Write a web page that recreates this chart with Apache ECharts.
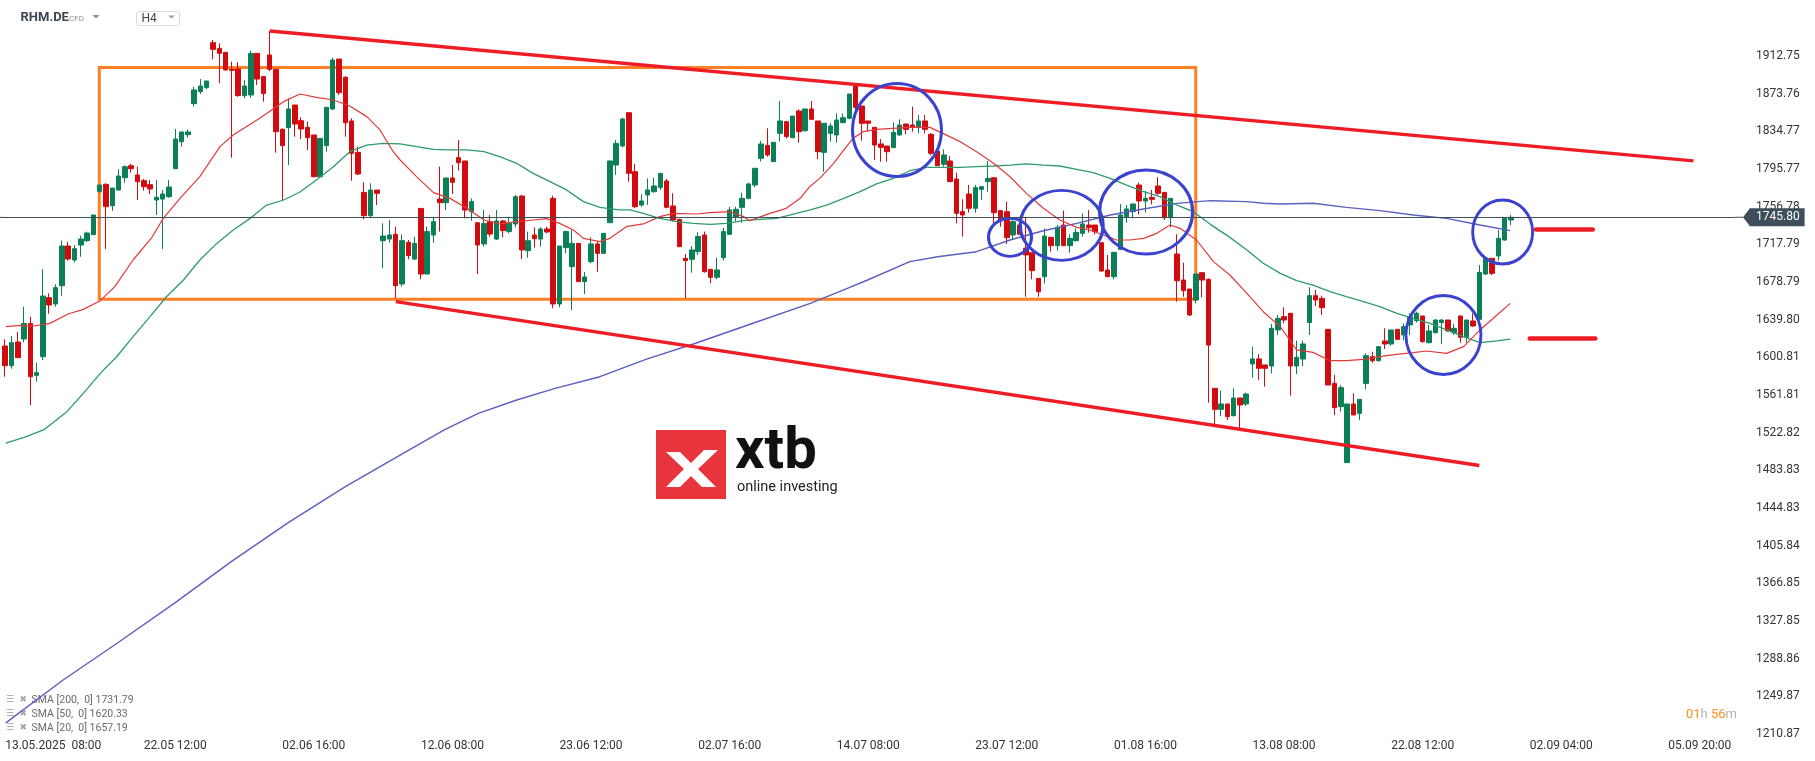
<!DOCTYPE html>
<html><head><meta charset="utf-8">
<script src="https://cdn.jsdelivr.net/npm/echarts@6/dist/echarts.min.js"></script>
<style>html,body{margin:0;padding:0;background:#fff}#c{width:1815px;height:761px}</style>
</head><body><div id="c"></div><script>
// ---- data ----
const xTickLabels = ['13.05.2025  08:00','22.05 12:00','02.06 16:00','12.06 08:00','23.06 12:00','02.07 16:00','14.07 08:00','23.07 12:00','01.08 16:00','13.08 08:00','22.08 12:00','02.09 04:00','05.09 20:00'];
const yTickValues = [1210.87,1249.87,1288.86,1327.85,1366.85,1405.84,1444.83,1483.83,1522.82,1561.81,1600.81,1639.80,1678.79,1717.79,1756.78,1795.77,1834.77,1873.76,1912.75];
const slotCount = 275;
const open = [1612.6,1592.2,1616.7,1619.8,1636.0,1582.2,1601.5,1662.6,1656.1,1675.0,1716.1,1701.6,1717.1,1721.6,1727.8,1772.3,1779.9,1757.8,1774.0,1786.8,1799.2,1789.6,1783.7,1779.6,1763.7,1764.7,1767.1,1796.1,1824.0,1831.3,1863.4,1875.8,1880.0,1926.5,1920.7,1916.5,1898.9,1899.3,1871.7,1872.4,1915.5,1891.4,1913.8,1898.9,1836.8,1838.6,1862.0,1845.8,1838.9,1831.0,1787.8,1820.0,1857.9,1909.6,1890.7,1845.5,1813.0,1771.6,1747.5,1774.0,1721.6,1723.3,1728.2,1676.8,1719.9,1702.6,1755.0,1687.1,1727.5,1764.7,1760.9,1786.5,1807.5,1804.1,1751.6,1740.2,1718.2,1741.3,1723.3,1742.0,1731.0,1738.9,1767.8,1711.3,1727.5,1723.3,1733.7,1765.4,1656.1,1714.4,1694.7,1718.8,1679.2,1699.9,1718.2,1708.5,1740.2,1799.9,1819.6,1854.1,1793.0,1758.5,1768.9,1772.3,1776.8,1783.4,1757.5,1743.7,1703.3,1702.3,1710.3,1727.5,1692.0,1683.7,1704.0,1728.2,1746.4,1756.1,1765.4,1779.2,1806.8,1820.3,1803.4,1832.7,1844.8,1828.2,1855.8,1835.4,1857.9,1845.5,1813.0,1832.7,1831.0,1843.8,1848.2,1882.7,1861.0,1845.5,1838.9,1821.7,1819.6,1817.9,1831.0,1842.4,1841.3,1839.6,1845.5,1831.7,1814.4,1800.6,1804.1,1785.4,1751.6,1769.9,1755.1,1774.7,1782.7,1786.8,1752.7,1751.6,1727.5,1737.8,1713.7,1709.2,1682.6,1684.3,1725.1,1716.4,1737.8,1716.4,1721.6,1729.2,1737.8,1737.8,1719.5,1691.2,1684.3,1712.6,1746.4,1751.6,1779.2,1762.7,1766.5,1778.2,1771.6,1745.4,1707.8,1680.9,1671.6,1660.2,1688.5,1681.6,1568.8,1547.0,1552.6,1540.5,1558.8,1552.6,1594.0,1599.2,1593.0,1591.9,1629.2,1643.0,1646.4,1591.9,1599.1,1636.8,1664.7,1661.9,1629.8,1573.9,1549.8,1491.9,1552.6,1542.9,1573.9,1601.6,1597.4,1617.8,1614.7,1629.8,1624.0,1634.4,1638.8,1643.7,1616.0,1626.4,1636.8,1639.5,1626.4,1643.7,1621.6,1638.5,1640.2,1687.1,1703.3,1705.8,1722.3,1743.0];
const high = [1619.5,1622.9,1627.1,1653.3,1642.9,1595.3,1692.3,1667.1,1676.4,1721.6,1720.2,1717.1,1726.8,1731.0,1748.2,1779.2,1781.0,1776.1,1795.4,1799.6,1801.3,1798.2,1785.4,1784.4,1784.4,1774.0,1784.4,1837.2,1834.1,1836.8,1881.0,1888.9,1886.9,1929.3,1925.9,1916.5,1906.9,1906.2,1887.9,1918.3,1915.5,1891.4,1938.6,1898.9,1837.9,1868.9,1862.0,1849.3,1844.8,1831.0,1827.5,1859.6,1911.0,1909.6,1892.0,1848.2,1818.9,1782.0,1781.0,1774.0,1739.5,1743.0,1736.1,1728.2,1722.3,1725.7,1755.0,1736.1,1746.4,1798.2,1786.5,1799.9,1825.8,1804.1,1765.4,1740.2,1753.3,1748.2,1753.3,1743.0,1746.4,1768.9,1768.9,1731.0,1735.4,1735.4,1736.1,1768.2,1716.1,1732.0,1732.6,1718.8,1689.2,1725.1,1720.6,1729.2,1804.1,1825.8,1848.9,1854.1,1801.0,1769.6,1786.1,1786.8,1791.3,1785.4,1770.6,1743.7,1707.8,1716.1,1730.3,1731.0,1692.0,1704.0,1735.1,1756.8,1756.8,1771.3,1781.6,1796.5,1825.1,1837.9,1823.4,1866.2,1844.8,1850.6,1857.5,1857.9,1866.2,1845.5,1843.1,1843.1,1853.4,1853.4,1873.4,1882.7,1861.0,1845.5,1838.9,1826.8,1819.6,1844.1,1847.2,1842.4,1860.3,1851.7,1851.7,1833.0,1814.4,1816.1,1809.2,1792.0,1764.4,1779.2,1779.2,1777.5,1804.1,1786.8,1753.3,1762.0,1743.0,1746.4,1746.4,1709.2,1682.6,1734.4,1725.1,1737.8,1752.7,1728.2,1734.4,1749.9,1753.3,1737.8,1719.5,1706.8,1709.5,1759.6,1758.5,1759.6,1781.6,1773.0,1774.0,1787.2,1771.6,1765.4,1728.2,1698.8,1671.6,1687.1,1688.5,1682.6,1568.8,1566.4,1552.6,1568.8,1558.8,1564.3,1611.9,1604.3,1593.0,1635.4,1644.7,1652.6,1646.4,1618.1,1618.1,1673.3,1670.6,1664.7,1629.8,1582.6,1572.2,1552.6,1563.6,1557.4,1605.0,1606.7,1611.9,1630.9,1629.2,1629.8,1636.1,1646.4,1648.1,1643.7,1634.4,1640.2,1640.2,1639.5,1635.4,1643.7,1639.5,1646.4,1696.4,1703.3,1703.3,1732.6,1744.7,1748.2];
const low = [1580.8,1589.1,1600.5,1616.4,1551.5,1575.7,1598.1,1646.0,1653.3,1664.7,1700.9,1699.2,1705.0,1720.2,1727.8,1772.3,1713.0,1752.6,1774.0,1781.6,1792.0,1763.7,1773.4,1769.9,1748.2,1713.0,1766.1,1796.1,1818.9,1828.5,1860.3,1873.4,1878.2,1909.3,1884.5,1897.6,1807.5,1870.6,1868.9,1869.6,1882.7,1865.5,1897.0,1812.7,1763.7,1799.9,1829.2,1826.8,1815.4,1787.2,1787.8,1813.7,1856.8,1872.4,1829.2,1783.7,1789.6,1743.7,1744.7,1758.5,1693.0,1719.5,1662.0,1674.0,1702.3,1701.6,1681.6,1687.1,1719.5,1731.0,1753.3,1769.9,1794.1,1744.7,1742.3,1687.1,1715.4,1725.7,1722.3,1725.0,1729.2,1735.4,1702.6,1704.0,1714.4,1715.4,1729.2,1651.6,1652.6,1708.5,1649.8,1679.2,1666.4,1698.1,1689.5,1707.8,1740.2,1789.6,1818.2,1782.7,1755.1,1756.8,1758.5,1771.3,1774.1,1755.1,1741.3,1715.4,1662.0,1688.5,1706.8,1688.5,1677.5,1681.9,1701.0,1727.5,1741.3,1740.3,1764.4,1776.8,1803.4,1808.6,1803.4,1824.1,1827.5,1827.5,1823.0,1834.4,1846.5,1805.8,1793.0,1824.1,1823.0,1843.1,1847.2,1855.0,1825.1,1834.4,1805.1,1803.4,1803.4,1817.9,1830.3,1831.7,1834.4,1832.7,1832.7,1810.0,1799.2,1798.2,1782.7,1739.5,1725.8,1750.6,1750.6,1763.7,1772.3,1739.5,1736.1,1718.2,1722.3,1728.2,1663.6,1681.6,1663.6,1677.4,1710.2,1711.3,1716.4,1709.2,1720.6,1725.8,1729.9,1728.2,1689.5,1684.3,1681.6,1711.9,1740.2,1744.7,1748.9,1750.6,1759.2,1768.9,1743.0,1735.4,1658.5,1663.6,1643.6,1656.8,1663.0,1553.9,1528.4,1540.1,1536.0,1539.5,1527.4,1550.5,1579.9,1577.5,1570.5,1584.3,1624.0,1636.1,1561.2,1583.6,1591.9,1624.0,1654.0,1644.7,1572.2,1541.2,1544.6,1491.9,1541.2,1536.0,1567.8,1595.3,1596.4,1609.5,1612.9,1618.8,1618.8,1624.0,1636.8,1616.0,1615.3,1625.7,1614.4,1627.4,1624.0,1616.0,1616.0,1632.6,1640.2,1686.0,1686.0,1700.9,1721.6,1737.8];
const close = [1592.2,1616.0,1600.5,1636.0,1580.8,1585.0,1664.3,1655.0,1673.0,1716.1,1702.6,1713.3,1723.3,1729.5,1748.2,1779.2,1756.8,1776.1,1788.5,1798.2,1796.1,1782.7,1777.5,1775.1,1766.5,1769.9,1777.1,1826.8,1834.1,1834.1,1877.6,1881.7,1886.9,1919.6,1915.5,1898.3,1897.9,1871.7,1881.7,1915.5,1888.9,1873.8,1898.9,1834.4,1820.0,1857.9,1842.3,1837.2,1828.2,1787.8,1827.5,1859.6,1908.6,1874.8,1843.7,1812.0,1790.6,1747.5,1774.0,1770.6,1726.4,1727.5,1675.0,1721.6,1706.1,1718.8,1687.1,1731.0,1741.3,1760.9,1786.5,1782.0,1802.3,1753.3,1762.0,1717.1,1739.5,1728.5,1742.0,1732.0,1739.5,1767.1,1712.0,1721.6,1723.7,1733.7,1730.6,1656.1,1716.1,1731.0,1718.8,1679.2,1684.0,1718.2,1708.5,1729.2,1804.1,1822.3,1847.5,1791.3,1756.8,1762.7,1774.1,1778.2,1791.3,1756.1,1743.0,1715.4,1701.0,1712.0,1725.8,1689.5,1683.7,1691.3,1731.0,1753.4,1754.1,1765.4,1780.3,1796.5,1821.7,1810.3,1823.4,1845.5,1829.3,1850.6,1834.4,1857.9,1847.2,1813.7,1843.1,1840.3,1846.5,1848.9,1873.4,1859.6,1843.1,1843.1,1820.6,1818.2,1813.7,1833.7,1841.3,1836.8,1838.9,1845.5,1836.8,1812.0,1799.2,1810.3,1782.7,1749.9,1748.2,1755.1,1776.5,1777.5,1786.1,1750.6,1742.0,1724.7,1741.3,1728.2,1706.8,1690.6,1668.8,1726.4,1716.4,1735.4,1716.4,1724.0,1730.2,1738.9,1735.1,1730.9,1690.2,1684.3,1709.5,1748.2,1754.4,1759.6,1762.7,1765.4,1764.4,1770.6,1745.4,1765.4,1680.2,1669.9,1644.7,1687.1,1680.9,1613.6,1547.0,1552.6,1539.4,1558.8,1551.5,1562.9,1599.2,1589.5,1589.5,1630.9,1641.2,1639.5,1591.9,1600.9,1614.7,1664.7,1660.2,1652.3,1572.2,1548.8,1569.5,1552.6,1541.2,1557.4,1602.6,1597.4,1611.9,1614.7,1629.2,1619.5,1632.6,1643.0,1646.4,1617.1,1628.2,1639.5,1639.5,1628.2,1630.9,1621.6,1639.5,1633.3,1688.8,1703.3,1687.8,1724.0,1744.7,1745.8];
const sma20 = [[0.1,1632.6],[2.4,1634.0],[4.5,1633.3],[7.1,1636.0],[10.0,1645.7],[12.4,1650.5],[15.1,1659.5],[17.4,1674.0],[20.3,1701.6],[23.3,1725.1],[25.1,1744.7],[28.0,1767.2],[30.9,1787.9],[34.1,1818.9],[36.2,1831.0],[40.4,1848.2],[44.2,1865.5],[46.8,1873.4],[49.4,1870.0],[52.1,1867.2],[54.7,1861.0],[57.4,1850.0],[59.5,1836.2],[61.6,1813.7],[62.7,1805.1],[65.3,1787.9],[68.0,1771.3],[70.6,1765.4],[73.3,1755.1],[76.0,1743.0],[78.5,1738.9],[81.2,1741.3],[83.8,1743.0],[85.9,1744.4],[88.0,1739.5],[90.2,1732.7],[91.8,1724.0],[94.4,1720.6],[96.0,1724.0],[98.6,1736.1],[101.3,1738.9],[103.9,1746.5],[106.1,1749.9],[109.8,1749.2],[111.9,1750.6],[115.1,1751.6],[117.2,1746.5],[118.2,1742.3],[121.4,1749.9],[124.0,1755.1],[126.2,1765.4],[127.7,1777.5],[129.3,1786.1],[131.5,1801.7],[133.1,1815.4],[134.6,1827.5],[136.2,1834.4],[138.3,1836.8],[140.9,1837.9],[143.6,1838.9],[146.8,1838.9],[151.6,1824.1],[154.2,1813.7],[156.9,1801.7],[159.5,1787.8],[162.1,1770.6],[164.8,1755.1],[167.4,1743.0],[170.1,1735.4],[172.2,1732.7],[174.3,1727.5],[176.4,1722.3],[178.5,1722.3],[180.7,1724.0],[182.8,1729.2],[184.9,1737.8],[186.5,1734.4],[189.1,1722.3],[191.8,1699.9],[194.4,1686.1],[197.1,1667.1],[199.7,1648.1],[202.4,1632.6],[203.9,1618.8],[205.0,1608.5],[207.6,1606.0],[210.3,1597.4],[212.9,1597.4],[215.6,1598.8],[218.2,1601.5],[220.9,1604.0],[223.5,1605.7],[225.6,1607.4],[228.8,1605.0],[231.5,1611.9],[234.1,1629.2],[236.8,1644.7],[238.9,1656.7]];
const sma50 = [[0.1,1512.0],[3.0,1518.0],[6.1,1525.7],[9.8,1544.6],[12.4,1563.6],[15.1,1584.3],[17.7,1601.5],[20.3,1622.3],[23.0,1643.0],[25.6,1663.6],[28.3,1680.9],[30.9,1701.6],[33.6,1718.8],[36.2,1732.7],[38.9,1744.7],[41.5,1758.5],[44.2,1763.7],[46.8,1772.0],[49.4,1784.4],[52.1,1798.2],[54.7,1813.7],[57.4,1820.6],[60.0,1822.4],[62.7,1821.7],[65.3,1818.9],[68.0,1816.1],[70.6,1815.5],[73.3,1815.5],[76.0,1813.7],[78.5,1808.6],[81.2,1801.7],[83.8,1791.3],[86.5,1782.7],[89.1,1774.1],[91.8,1762.0],[94.4,1756.1],[97.5,1753.4],[99.2,1753.4],[101.3,1749.9],[103.9,1744.7],[106.6,1741.3],[109.2,1739.5],[111.9,1738.5],[114.5,1739.5],[117.2,1742.3],[119.8,1743.7],[122.5,1744.7],[125.1,1749.2],[127.8,1753.4],[130.4,1758.5],[133.1,1765.4],[135.7,1772.3],[138.3,1780.3],[141.0,1786.1],[143.6,1794.0],[146.3,1797.5],[148.9,1797.5],[151.6,1797.5],[154.2,1798.2],[156.9,1798.9],[159.5,1799.9],[162.1,1801.0],[164.8,1799.9],[167.4,1798.9],[170.1,1795.4],[172.7,1792.0],[175.4,1786.1],[178.0,1779.2],[180.7,1772.3],[183.3,1767.2],[186.0,1758.5],[188.6,1751.6],[191.3,1738.5],[194.4,1725.0],[197.1,1712.0],[199.7,1698.2],[202.4,1687.8],[205.0,1680.2],[207.6,1675.7],[210.3,1668.8],[212.9,1663.6],[215.6,1658.5],[218.2,1653.3],[220.9,1646.4],[223.5,1641.2],[226.2,1636.1],[228.8,1629.2],[231.5,1622.3],[234.1,1616.0],[236.8,1617.8],[238.9,1619.8]];
const sma200 = [[0.1,1222.5],[9.2,1266.9],[18.0,1306.0],[27.0,1347.0],[36.0,1390.0],[45.0,1430.0],[54.0,1467.0],[62.0,1497.0],[69.7,1525.7],[75.1,1542.9],[81.2,1556.7],[87.3,1568.8],[94.4,1580.8],[101.7,1598.8],[109.6,1615.4],[118.7,1636.1],[127.8,1656.7],[133.1,1670.6],[136.9,1680.9],[143.6,1699.9],[148.0,1705.0],[154.2,1710.2],[159.5,1722.3],[164.8,1731.9],[170.1,1739.5],[175.4,1748.2],[180.7,1754.4],[186.0,1760.2],[191.3,1763.0],[197.1,1762.0],[199.7,1760.3],[202.4,1759.6],[207.6,1760.3],[212.9,1756.1],[218.2,1752.7],[223.5,1748.2],[228.8,1744.7],[234.1,1737.8],[238.9,1732.0]];
const lastPrice = 1745.80;
const legendRows = [['SMA [200,  0]','1731.79'],['SMA [50,  0]','1620.33'],['SMA [20,  0]','1657.19']];
// ---- annotations (drawn in data coordinates) ----
const rangeBox = [[14.94,1900.8],[188.98,1660.9]];
const trendLines = [[[42,1938.6],[268,1804.2]],[[62,1658.5],[234,1488.8]]];
const levelLines = [[[243,1733.4],[252,1733.4]],[[242,1620.6],[252.4,1620.6]]];
const ellipses = [[141.56,1836.2,89,93],[159.5,1725.1,43,38],[167.7,1737.5,83,70],[181.1,1751.3,93,84],[228.3,1624.0,75,79],[237.7,1730.6,60,64]];

// ---- layout ----
const W = 1815, H = 761;
const gridLeft = 2, gridRight = 80.5, gridTop = 0, gridBottom = 22;
const yMax = 1970.7;
const yMin = yMax - (H - gridTop - gridBottom) * 1.035;
const GREEN = '#0a7f58', RED = '#d20b10', TAG = '#3e4e5b';
const font = 'Roboto, "Noto Sans", sans-serif';
const tagTip = 1743, tagBox = 1749.5;

const chart = echarts.init(document.getElementById('c'), null, {renderer: 'canvas'});
const cats = Array.from({length: slotCount}, (_, i) => String(i));
const candle = open.map((o, i) => [o, close[i], low[i], high[i]]);

const option = {
  animation: false,
  backgroundColor: '#ffffff',
  grid: {left: gridLeft, right: gridRight, top: gridTop, bottom: gridBottom, containLabel: false},
  xAxis: [
    {type: 'category', data: cats, boundaryGap: true,
     axisLine: {show: false}, axisTick: {show: false}, splitLine: {show: false},
     axisLabel: {interval: 21, align: 'left', margin: 1, fontSize: 12, fontFamily: font, color: '#333',
       formatter: (v, idx) => (idx % 22 === 0 ? (xTickLabels[idx / 22] || '') : '')}},
    {type: 'value', min: -0.5, max: slotCount - 0.5, show: false}
  ],
  yAxis: {type: 'value', position: 'right', min: yMin, max: yMax, scale: true,
    axisLine: {show: false}, axisTick: {show: false}, splitLine: {show: false},
    axisLabel: {customValues: yTickValues, align: 'left', margin: 21.5, fontSize: 12, fontFamily: font, color: '#333',
      formatter: v => v.toFixed(2)}},
  series: [
    {type: 'candlestick', xAxisIndex: 0, data: candle, barWidth: 5, z: 2, silent: true,
     itemStyle: {color: GREEN, color0: RED, borderColor: GREEN, borderColor0: RED, borderWidth: 1}},
    {type: 'line', xAxisIndex: 1, data: sma200, showSymbol: false, z: 3, silent: true, clip: false,
     lineStyle: {color: '#5a5fc0', width: 1.4},
     markLine: {silent: true, symbol: ['none', 'none'], z: 8,
       data: [{yAxis: lastPrice, lineStyle: {color: TAG, width: 1, type: 'solid'},
               label: {show: true, position: 'end', distance: tagBox - (W - gridRight), formatter: lastPrice.toFixed(2),
                       backgroundColor: TAG, color: '#fff', fontSize: 12, fontFamily: font,
                       padding: [3, 5, 3, 6.5], borderRadius: 0}}]}},
    {type: 'line', xAxisIndex: 1, data: sma50, showSymbol: false, z: 3, silent: true, clip: false,
     lineStyle: {color: '#2f9a6c', width: 1.3}},
    {type: 'line', xAxisIndex: 1, data: sma20, showSymbol: false, z: 3, silent: true, clip: false,
     lineStyle: {color: '#e23a3a', width: 1.2},
     markArea: {silent: true, itemStyle: {color: 'rgba(0,0,0,0)', borderColor: '#ff7f24', borderWidth: 3, opacity: 1},
       data: [[{coord: rangeBox[0]}, {coord: rangeBox[1]}]]},
     markLine: {silent: true, symbol: ['none', 'none'], label: {show: false},
       data: trendLines.map(l => [{coord: l[0], lineStyle: {color: '#ee1c25', width: 3.5, type: 'solid', opacity: 1}}, {coord: l[1]}])
         .concat(levelLines.map(l => [{coord: l[0], lineStyle: {color: '#ee1c25', width: 4.5, type: 'solid', cap: 'round', opacity: 1}}, {coord: l[1]}]))}},
    {type: 'scatter', xAxisIndex: 1, z: 6, silent: true, clip: false,
     data: ellipses.map(e => ({value: [e[0], e[1]], symbolSize: [e[2], e[3]]})),
     symbol: 'circle',
     itemStyle: {color: 'rgba(0,0,0,0)', borderColor: '#3a43cf', borderWidth: 3, opacity: 1}}
  ]
};
chart.setOption(option);

// decorations: header, legend, logo, timer, price-tag arrow
const py = chart.convertToPixel({yAxisIndex: 0}, lastPrice);
const gx = W - gridRight;
const graphics = [
  {type: 'text', left: 20.5, top: 11, style: {text: 'RHM.DE', font: 'bold 13px ' + font, fill: '#3b4650'}},
  {type: 'text', left: 69, top: 15, style: {text: 'CFD', font: '8px ' + font, fill: '#8b949b'}},
  {type: 'polygon', shape: {points: [[92.5, 15], [99.5, 15], [96, 18.5]]}, style: {fill: '#8b949b'}},
  {type: 'rect', shape: {x: 136.5, y: 11.5, width: 43, height: 14, r: 2}, style: {fill: '#fff', stroke: '#d9dde1', lineWidth: 1}},
  {type: 'text', left: 141.5, top: 12.5, style: {text: 'H4', font: '12px ' + font, fill: '#3b4650'}},
  {type: 'polygon', shape: {points: [[168, 15.5], [175, 15.5], [171.5, 18.5]]}, style: {fill: '#9aa1a7'}},
  // logo
  {type: 'rect', shape: {x: 656, y: 430, width: 70, height: 69}, style: {fill: '#e8343c'}},
  {type: 'polygon', shape: {points: [[666, 452], [680, 452], [691, 463], [704, 450], [718, 450], [698, 469], [716, 487], [702, 487], [691, 476], [680, 487], [666, 487], [684, 469]]}, style: {fill: '#fff'}},
  {type: 'text', left: 735, top: 424, style: {text: 'xtb', font: 'bold 58px ' + font, fill: '#111'}},
  {type: 'text', left: 737, top: 480, style: {text: 'online investing', font: '14.5px ' + font, fill: '#222'}},
  // timer
  {type: 'text', left: 1686, top: 708, style: {text: '{o|01}{g|h} {o|56}{g|m}', font: '13px ' + font,
    rich: {o: {fill: '#f7931e', font: '13px ' + font}, g: {fill: '#b4b4b4', font: '13px ' + font}}}},
  // price line continuation to the tag, and tag arrow
  {type: 'line', shape: {x1: gx, y1: py, x2: tagTip, y2: py}, style: {stroke: TAG, lineWidth: 1}, z: 10},
  {type: 'line', shape: {x1: 0, y1: py, x2: gridLeft, y2: py}, style: {stroke: TAG, lineWidth: 1}, z: 10},
  {type: 'polygon', shape: {points: [[tagTip, py], [tagBox + 0.5, py - 9], [tagBox + 0.5, py + 9]]}, style: {fill: TAG}, z: 10}
];
legendRows.forEach((r, k) => {
  const y = 701.5 + k * 13.8;
  graphics.push({type: 'text', left: 6, top: y - 6, style: {text: '☰', font: '9px "DejaVu Sans"', fill: '#9a9a9a'}});
  graphics.push({type: 'text', left: 19.5, top: y - 6, style: {text: '✖', font: '9px "DejaVu Sans"', fill: '#a6a6a6'}});
  graphics.push({type: 'text', left: 31.5, top: y - 6.5, style: {text: r[0] + ' ' + r[1], font: '10.5px ' + font, fill: '#6a6a6a'}});
});
chart.setOption({graphic: graphics});
</script></body></html>
